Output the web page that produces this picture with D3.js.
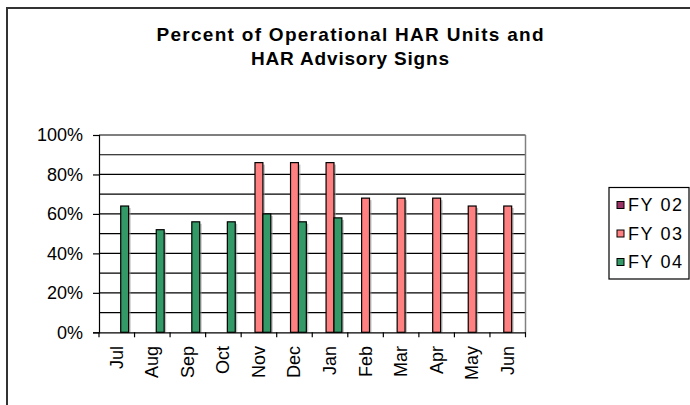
<!DOCTYPE html>
<html><head><meta charset="utf-8">
<script src="https://cdn.jsdelivr.net/npm/d3@7"></script>
<style>body{margin:0;background:#fff}svg{display:block}</style>
</head><body>
<svg id="c" width="690" height="405"></svg>
<script>
const months = ["Jul","Aug","Sep","Oct","Nov","Dec","Jan","Feb","Mar","Apr","May","Jun"];
const seriesNames = ["FY 02","FY 03","FY 04"];
const fy02 = [null,null,null,null,null,null,null,null,null,null,null,null];
const fy03 = [null,null,null,null,86,86,86,68,68,68,64,64];
const fy04 = [64,52,56,56,60,56,58,null,null,null,null,null];
const colors = ["#993366","#FF8080","#339966"];
const yTicks = [0,20,40,60,80,100];
const yGrid = [10,20,30,40,50,60,70,80,90,100];
const titleLines = ["Percent of Operational HAR Units and","HAR Advisory Signs"];

const svg = d3.select("#c");
const font = "Liberation Sans, Arial, Helvetica, sans-serif";
const L = 99, R = 525.5, T = 135, B = 332.3;

// outer border
svg.append("rect").attr("x",7).attr("y",8).attr("width",720).attr("height",430)
  .attr("fill","none").attr("stroke","#333").attr("stroke-width",2);

// title
const tl = [{t:titleLines[0], y:41, w:387},{t:titleLines[1], y:65, w:198}];
svg.selectAll("text.title").data(tl).join("text").attr("class","title")
  .attr("x",350).attr("y",d=>d.y).attr("text-anchor","middle")
  .attr("font-family",font).attr("font-weight","bold").attr("font-size",19)
  .attr("textLength",d=>d.w).attr("lengthAdjust","spacing")
  .text(d=>d.t);

const x = d3.scaleBand().domain(months).range([L,R]).paddingInner(0).paddingOuter(0);
const y = d3.scaleLinear().domain([0,100]).range([B,T]);
const bw = x.step()/4.5;
const xs = d3.scaleBand().domain(seriesNames).range([0,bw*3]);
const groupOff = (x.step()-bw*3)/2;

// gridlines
svg.append("g").selectAll("line").data(yGrid).join("line")
  .attr("x1",L).attr("x2",R).attr("y1",d=>y(d)).attr("y2",d=>y(d))
  .attr("stroke","#000").attr("stroke-width",1.2);
// right border gray
svg.append("line").attr("x1",R).attr("x2",R).attr("y1",T).attr("y2",B)
  .attr("stroke","#808080").attr("stroke-width",1.5);

// bars
const all = [fy02,fy03,fy04];
const barData = [];
all.forEach((arr,si)=>arr.forEach((v,i)=>{ if(v!=null) barData.push({m:months[i],s:seriesNames[si],v,c:colors[si]}); }));
const bars = svg.append("g");
bars.selectAll("rect.sh").data(barData).join("rect").attr("class","sh")
  .attr("x",d=>x(d.m)+groupOff+xs(d.s)+2).attr("y",d=>y(d.v)+2)
  .attr("width",bw).attr("height",d=>B-y(d.v)-2)
  .attr("fill","#9a9a9a").attr("opacity",0.6);
bars.selectAll("rect.b").data(barData).join("rect").attr("class","b")
  .attr("x",d=>x(d.m)+groupOff+xs(d.s)).attr("y",d=>y(d.v))
  .attr("width",bw).attr("height",d=>B-y(d.v))
  .attr("fill",d=>d.c).attr("stroke","#000").attr("stroke-width",1.2);

// y axis
const ya = d3.axisLeft(y).tickValues(yTicks).tickFormat(d=>d+"%").tickSize(6).tickPadding(10);
const yg = svg.append("g").attr("transform",`translate(${L},0)`).call(ya);
yg.select(".domain").attr("stroke","#000").attr("stroke-width",1.2);
yg.selectAll(".tick line").attr("stroke","#000").attr("stroke-width",1.2);
yg.selectAll(".tick text").attr("font-family",font).attr("font-size",18).attr("fill","#000");

// x axis
const xa = d3.axisBottom(x).tickSize(0).tickFormat("");
const xg = svg.append("g").attr("transform",`translate(0,${B})`).call(xa);
xg.select(".domain").attr("stroke","#000").attr("stroke-width",1.2);
const bounds = months.map(m=>x(m)).concat([R]);
svg.append("g").selectAll("line").data(bounds).join("line")
  .attr("x1",d=>d).attr("x2",d=>d).attr("y1",B).attr("y2",B+5)
  .attr("stroke","#000").attr("stroke-width",1.2);
svg.append("g").selectAll("text").data(months).join("text")
  .attr("transform",d=>`translate(${x(d)+x.bandwidth()/2},346) rotate(-90)`)
  .attr("text-anchor","end").attr("dominant-baseline","central")
  .attr("font-family",font).attr("font-size",18).attr("fill","#000")
  .text(d=>d);

// legend
svg.append("rect").attr("x",609).attr("y",187.5).attr("width",80).attr("height",91.5)
  .attr("fill","#fff").attr("stroke","#000").attr("stroke-width",1.2);
const ly = [205,233.5,262];
const lg = svg.append("g").selectAll("g").data(seriesNames).join("g")
  .attr("transform",(d,i)=>`translate(0,${ly[i]})`);
lg.append("rect").attr("x",617).attr("y",-3.5).attr("width",7).attr("height",7)
  .attr("fill",(d,i)=>colors[i]).attr("stroke","#000").attr("stroke-width",1);
lg.append("text").attr("x",628).attr("y",0).attr("dominant-baseline","central")
  .attr("font-family",font).attr("font-size",18).attr("fill","#000")
  .attr("textLength",54).attr("lengthAdjust","spacing").text(d=>d);
</script>
</body></html>
